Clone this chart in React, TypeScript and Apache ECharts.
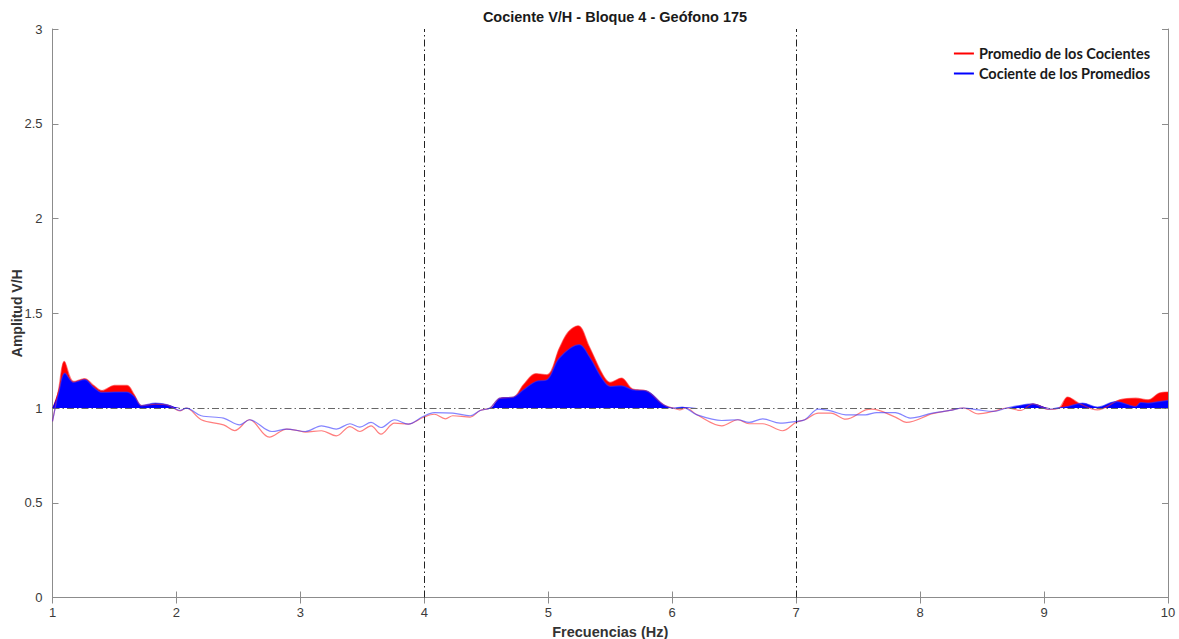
import React, { useEffect, useRef } from "react";
import * as echarts from "echarts";

const TITLE = "Cociente V/H - Bloque 4 - Geófono 175";
const X_NAME = "Frecuencias (Hz)";
const Y_NAME = "Amplitud V/H";
const RED_NAME = "Promedio de los Cocientes";
const BLUE_NAME = "Cociente de los Promedios";

const redFreq = [1.0, 1.05, 1.095, 1.17, 1.26, 1.33, 1.4, 1.5, 1.6, 1.66, 1.72, 1.83, 1.93, 2.03, 2.08, 2.2, 2.38, 2.47, 2.59, 2.75, 2.89, 2.98, 3.04, 3.17, 3.29, 3.4, 3.48, 3.57, 3.65, 3.76, 3.87, 3.99, 4.08, 4.17, 4.23, 4.37, 4.45, 4.53, 4.61, 4.72, 4.8, 4.9, 4.99, 5.09, 5.16, 5.24, 5.33, 5.44, 5.5, 5.59, 5.68, 5.79, 5.93, 6.01, 6.06, 6.11, 6.2, 6.4, 6.53, 6.62, 6.73, 6.89, 7.0, 7.07, 7.18, 7.28, 7.4, 7.56, 7.61, 7.8, 7.89, 8.1, 8.24, 8.35, 8.47, 8.59, 8.7, 8.81, 8.91, 9.04, 9.12, 9.19, 9.29, 9.43, 9.61, 9.74, 9.84, 9.93, 10.0];
const redVal = [0.93, 1.1, 1.246, 1.14, 1.155, 1.12, 1.092, 1.119, 1.119, 1.07, 1.013, 1.02, 1.015, 0.985, 1.0, 0.938, 0.911, 0.881, 0.938, 0.846, 0.889, 0.881, 0.873, 0.88, 0.853, 0.902, 0.876, 0.906, 0.862, 0.92, 0.915, 0.95, 0.967, 0.943, 0.959, 0.952, 0.987, 1.0, 1.052, 1.058, 1.123, 1.181, 1.175, 1.316, 1.4, 1.434, 1.325, 1.175, 1.135, 1.158, 1.1, 1.091, 1.017, 0.999, 0.99, 1.0, 0.964, 0.906, 0.938, 0.917, 0.917, 0.88, 0.925, 0.938, 0.973, 0.973, 0.941, 0.99, 0.994, 0.952, 0.924, 0.97, 0.987, 1.0, 0.969, 0.982, 1.0, 0.987, 1.022, 0.992, 1.0, 1.058, 1.022, 0.99, 1.043, 1.052, 1.043, 1.079, 1.084];

const blueFreq = [1.0, 1.05, 1.1, 1.17, 1.26, 1.33, 1.4, 1.5, 1.6, 1.66, 1.72, 1.83, 1.93, 2.03, 2.08, 2.2, 2.38, 2.51, 2.59, 2.77, 2.89, 3.04, 3.17, 3.29, 3.4, 3.48, 3.57, 3.65, 3.76, 3.87, 3.99, 4.08, 4.23, 4.37, 4.45, 4.53, 4.61, 4.72, 4.8, 4.9, 4.99, 5.09, 5.25, 5.33, 5.44, 5.5, 5.59, 5.68, 5.79, 5.93, 6.01, 6.08, 6.2, 6.4, 6.53, 6.62, 6.73, 6.87, 7.0, 7.07, 7.18, 7.28, 7.4, 7.56, 7.65, 7.8, 7.92, 8.1, 8.24, 8.35, 8.47, 8.59, 8.7, 8.78, 8.91, 9.04, 9.19, 9.31, 9.43, 9.58, 9.74, 9.78, 9.84, 9.93, 10.0];
const blueVal = [0.93, 1.08, 1.184, 1.135, 1.15, 1.11, 1.082, 1.084, 1.084, 1.06, 1.013, 1.026, 1.017, 0.987, 0.999, 0.959, 0.947, 0.911, 0.938, 0.876, 0.889, 0.876, 0.906, 0.889, 0.917, 0.899, 0.924, 0.897, 0.938, 0.915, 0.955, 0.976, 0.973, 0.959, 0.987, 1.0, 1.052, 1.058, 1.096, 1.14, 1.149, 1.264, 1.334, 1.272, 1.149, 1.114, 1.117, 1.096, 1.091, 1.017, 0.999, 1.005, 0.964, 0.934, 0.938, 0.924, 0.943, 0.92, 0.929, 0.938, 0.994, 0.985, 0.964, 0.964, 0.976, 0.976, 0.947, 0.973, 0.987, 1.0, 0.99, 0.982, 1.0, 1.011, 1.022, 0.994, 1.008, 1.026, 1.005, 1.034, 1.008, 1.029, 1.026, 1.034, 1.04];

const xTicks = [1, 2, 3, 4, 5, 6, 7, 8, 9, 10];
const yTicks = [0, 0.5, 1, 1.5, 2, 2.5, 3];
const refLinesX = [4, 7];
const refLineY = 1;

const pairs = (f: number[], v: number[]) => f.map((x, i) => [x, v[i]]);
const above = (f: number[], v: number[], base: number) => f.map((x, i) => [x, Math.max(v[i], base)]);

export default function App() {
  const ref = useRef<HTMLDivElement>(null);
  useEffect(() => {
    if (!ref.current) return;
    const chart = echarts.init(ref.current, null, { renderer: "svg" });
    const axisLine = { show: true, lineStyle: { color: "#8c8c8c", width: 1 } };
    const tick = { show: true, inside: true, length: 6, lineStyle: { color: "#8c8c8c" } };
    const labelStyle = { color: "#3a3a3a", fontSize: 13, fontFamily: "Liberation Sans, Arial, sans-serif" };
    const dash = [7, 3, 1.5, 3];
    chart.setOption({
      animation: false,
      backgroundColor: "#ffffff",
      title: {
        text: TITLE,
        left: 610,
        textAlign: "center",
        top: 4,
        textStyle: { fontSize: 14.5, fontWeight: "bold", color: "#1a1a1a", fontFamily: "Liberation Sans, Arial, sans-serif" },
      },
      legend: {
        data: [RED_NAME, BLUE_NAME],
        orient: "vertical",
        right: 24,
        top: 41,
        itemWidth: 20,
        itemHeight: 2,
        itemGap: 5,
        icon: "rect",
        textStyle: { fontSize: 14.5, fontWeight: "bold", color: "#1a1a1a", fontFamily: "Lato, Open Sans, sans-serif" },
      },
      grid: { left: 52.5, right: 11, top: 29, bottom: 41.5, containLabel: false, outerBoundsMode: "none" },
      xAxis: [
        {
          type: "value", min: 1, max: 10, interval: 1,
          name: X_NAME, nameLocation: "middle", nameGap: 27,
          nameTextStyle: { fontSize: 14.5, fontWeight: "bold", color: "#333", fontFamily: "Liberation Sans, Arial, sans-serif" },
          axisLine, axisTick: tick, splitLine: { show: false },
          axisLabel: { ...labelStyle, margin: 8, formatter: (v: number) => (xTicks.includes(v) ? String(v) : "") },
        },
        {
          type: "value", min: 1, max: 10, interval: 1, position: "top",
          axisLine, axisTick: tick, splitLine: { show: false }, axisLabel: { show: false },
        },
      ],
      yAxis: [
        {
          type: "value", min: 0, max: 3, interval: 0.5,
          name: Y_NAME, nameLocation: "middle", nameGap: 29, nameMoveOverlap: false,
          nameTextStyle: { fontSize: 14, fontWeight: "bold", color: "#333", fontFamily: "Liberation Sans, Arial, sans-serif" },
          axisLine, axisTick: tick, splitLine: { show: false },
          axisLabel: { ...labelStyle, margin: 10, formatter: (v: number) => (yTicks.includes(v) ? String(v) : "") },
        },
        {
          type: "value", min: 0, max: 3, interval: 0.5, position: "right",
          axisLine, axisTick: tick, splitLine: { show: false }, axisLabel: { show: false },
        },
      ],
      series: [
        {
          name: "redFill", type: "line", smooth: 0.35, symbol: "none", silent: true,
          data: above(redFreq, redVal, refLineY),
          lineStyle: { width: 0, opacity: 0 },
          areaStyle: { color: "#ff0000", opacity: 1, origin: refLineY },
          z: 2,
        },
        {
          name: "blueFill", type: "line", smooth: 0.35, symbol: "none", silent: true,
          data: above(blueFreq, blueVal, refLineY),
          lineStyle: { width: 0, opacity: 0 },
          areaStyle: { color: "#0000ff", opacity: 1, origin: refLineY },
          z: 3,
        },
        {
          name: RED_NAME, type: "line", smooth: 0.35, symbol: "none",
          data: pairs(redFreq, redVal),
          itemStyle: { color: "#ff0000" },
          lineStyle: { width: 1.2, color: "rgba(255,40,40,0.6)" },
          z: 4,
        },
        {
          name: BLUE_NAME, type: "line", smooth: 0.35, symbol: "none",
          data: pairs(blueFreq, blueVal),
          itemStyle: { color: "#0000ff" },
          lineStyle: { width: 1.2, color: "rgba(50,50,255,0.6)" },
          z: 5,
          markLine: {
            silent: true,
            symbol: "none",
            label: { show: false },
            data: [
              ...refLinesX.map((x) => ({ xAxis: x, lineStyle: { color: "#222", width: 1, type: dash } })),
              { yAxis: refLineY, lineStyle: { color: "#666", width: 1, type: dash } },
            ],
          },
        },
      ],
    });
    return () => chart.dispose();
  }, []);
  return <div ref={ref} style={{ position: "fixed", left: 0, top: 0, width: 1179, height: 639 }} />;
}
